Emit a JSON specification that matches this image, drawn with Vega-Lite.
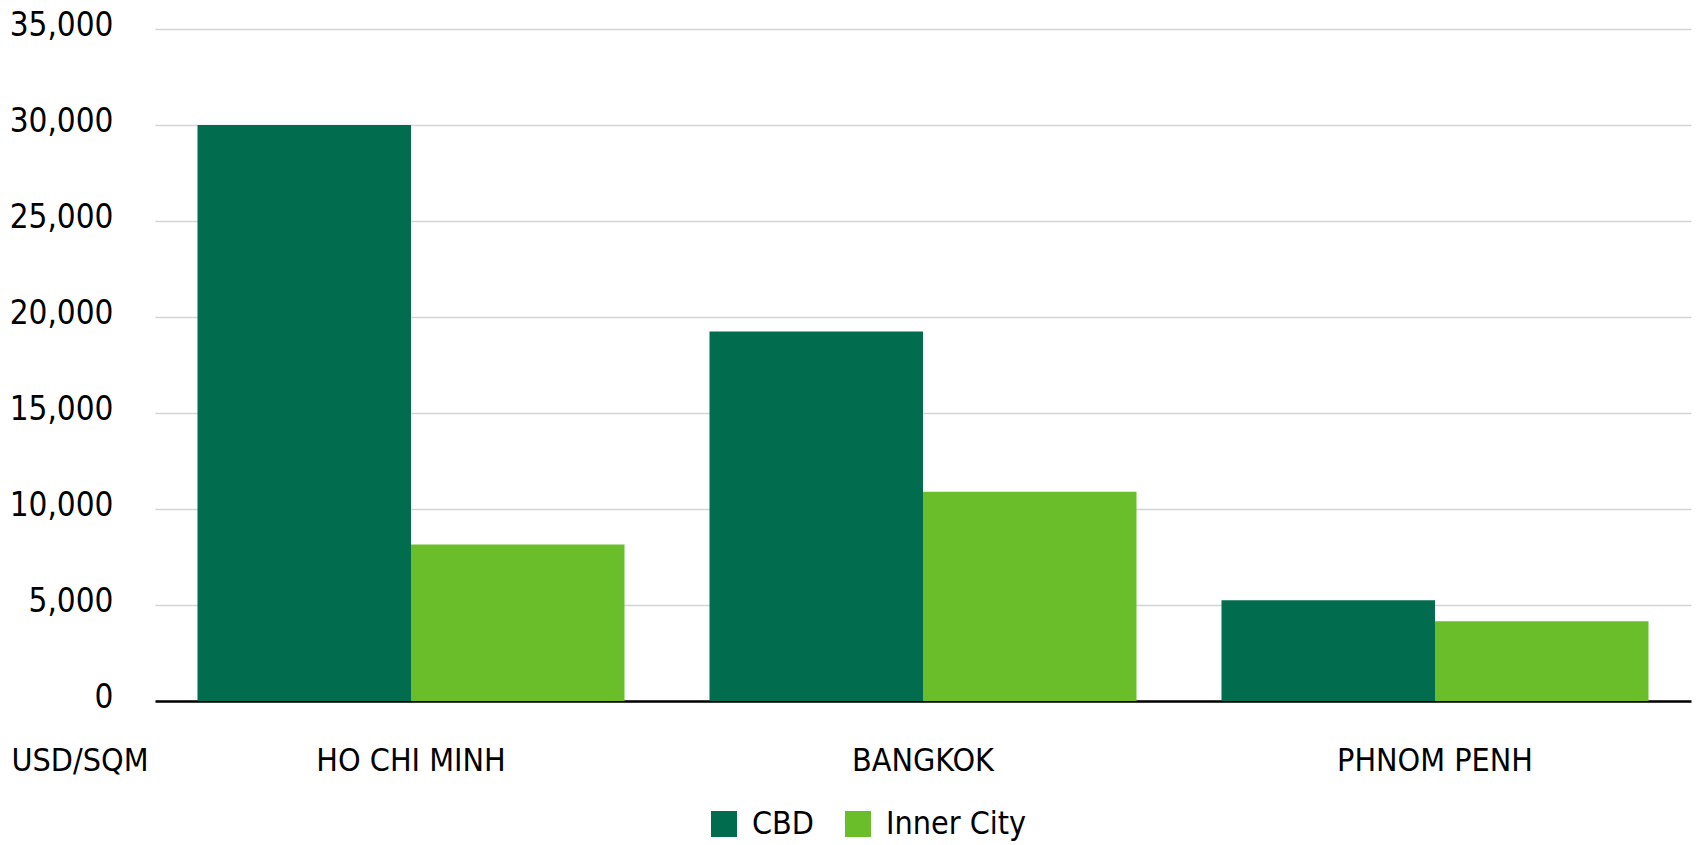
{
  "$schema": "https://vega.github.io/schema/vega-lite/v6.json",
  "width": 1536,
  "height": 672,
  "autosize": {"type": "none"},
  "padding": {"left": 155, "top": 29, "right": 7, "bottom": 144},
  "background": "white",
  "data": {
    "values": [
      {"city": "HO CHI MINH", "zone": "CBD", "price": 30000},
      {"city": "HO CHI MINH", "zone": "Inner City", "price": 8150},
      {"city": "BANGKOK", "zone": "CBD", "price": 19250},
      {"city": "BANGKOK", "zone": "Inner City", "price": 10900},
      {"city": "PHNOM PENH", "zone": "CBD", "price": 5250},
      {"city": "PHNOM PENH", "zone": "Inner City", "price": 4150}
    ]
  },
  "config": {
    "font": "'DejaVu Sans Condensed', 'Liberation Sans Narrow', 'Liberation Sans', sans-serif",
    "view": {"stroke": null}
  },
  "mark": {"type": "bar"},
  "encoding": {
    "x": {
      "field": "city",
      "type": "nominal",
      "sort": ["HO CHI MINH", "BANGKOK", "PHNOM PENH"],
      "scale": {"paddingInner": 0.166, "paddingOuter": 0.083},
      "axis": {
        "title": "USD/SQM",
        "titleFontSize": 32,
        "titleFontWeight": "normal",
        "titleColor": "#000000",
        "titleAngle": 0,
        "titleAlign": "left",
        "titleBaseline": "alphabetic",
        "titleAnchor": "start",
        "titleX": -144,
        "titleY": 69,
        "labelAngle": 0,
        "labelFontSize": 32,
        "labelColor": "#000000",
        "labelBaseline": "alphabetic",
        "labelPadding": 69,
        "labelLimit": 0,
        "ticks": false,
        "domain": true,
        "domainColor": "#000000",
        "domainWidth": 2.5,
        "grid": false
      }
    },
    "xOffset": {
      "field": "zone",
      "type": "nominal",
      "sort": ["CBD", "Inner City"],
      "scale": {"paddingInner": 0, "paddingOuter": 0}
    },
    "y": {
      "field": "price",
      "type": "quantitative",
      "scale": {"domain": [0, 35000], "nice": false},
      "axis": {
        "title": null,
        "values": [0, 5000, 10000, 15000, 20000, 25000, 30000, 35000],
        "format": ",.0f",
        "labelFontSize": 33,
        "labelColor": "#000000",
        "labelPadding": 42,
        "labelOffset": -4,
        "labelLimit": 0,
        "ticks": false,
        "domain": false,
        "grid": true,
        "gridColor": "#d4d4d4",
        "gridWidth": 1.5
      }
    },
    "color": {
      "field": "zone",
      "type": "nominal",
      "sort": ["CBD", "Inner City"],
      "scale": {"domain": ["CBD", "Inner City"], "range": ["#016c4e", "#6abe2a"]},
      "legend": {
        "title": null,
        "orient": "none",
        "direction": "horizontal",
        "legendX": 553,
        "legendY": 779,
        "symbolType": "square",
        "symbolSize": 676,
        "symbolStrokeWidth": 0,
        "symbolOpacity": 1,
        "labelFontSize": 32,
        "labelColor": "#000000",
        "labelOffset": 12,
        "labelLimit": 0,
        "columnPadding": 27
      }
    }
  }
}
